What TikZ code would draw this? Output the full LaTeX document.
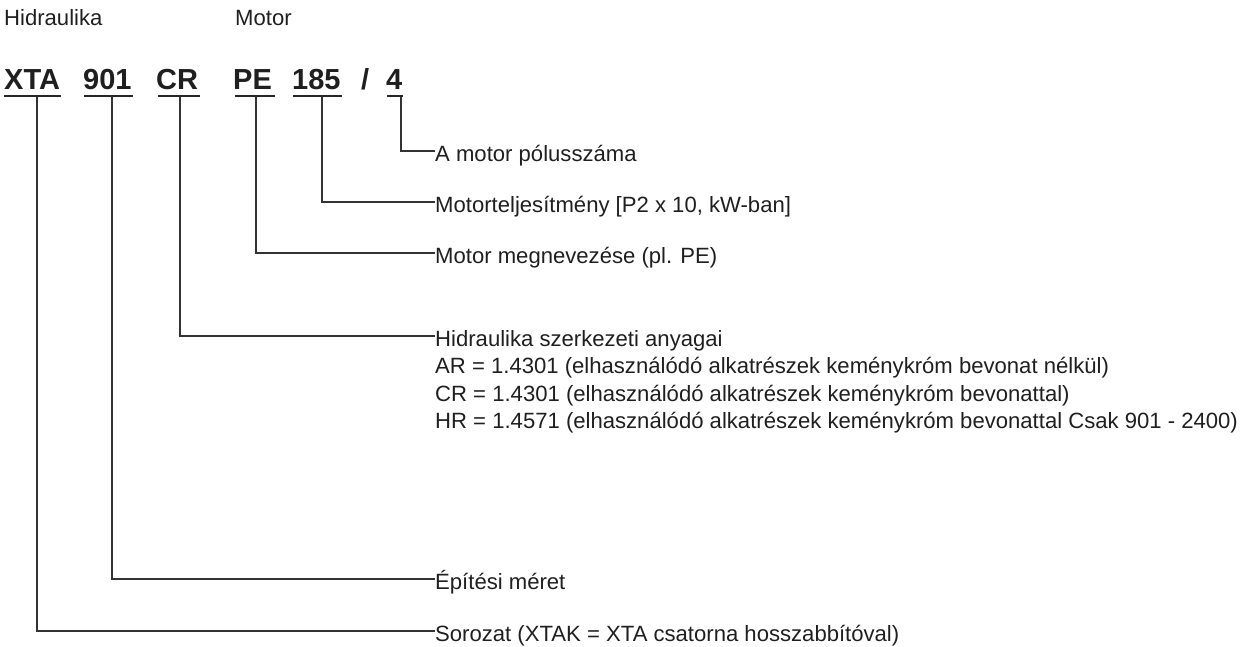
\documentclass[tikz,border=0pt]{standalone}
\usepackage{fontspec}
\setmainfont{Liberation Sans}
\usetikzlibrary{positioning}
\usetikzlibrary{calc}

\begin{document}
\begin{tikzpicture}[x=1pt,y=-1pt,
    lbl/.style={anchor=base west,inner sep=0pt,text=black!88,font=\fontsize{22.1}{26}\selectfont},
    code/.style={anchor=base west,inner sep=0pt,text=black!88,font=\fontsize{29}{32}\selectfont\bfseries},
    lead/.style={line width=1.1pt,draw=black!80},
    uline/.style={line width=2pt,draw=black!85}]
            \useasboundingbox (0,0) rectangle (1249,646);
            % group headings
            \node[lbl] (hhyd) at (4,25.5) {Hidraulika};
            \node[lbl] (hmot) at (235,25.5) {Motor};
            % type code
            \node[code] (xta) at (4,89.5) {XTA};
            \node[code] (size) at (83,89.5) {901};
            \node[code] (mat) at (156,89.5) {CR};
            \node[code] (mot) at (233,89.5) {PE};
            \node[code] (pow) at (292,89.5) {185};
            \node[code] (slash) at (361,89.5) {/};
            \node[code] (pole) at (386,89.5) {4};
            \draw[uline] (4,96) -- (61,96);
            \draw[uline] (84,96) -- (133,96);
            \draw[uline] (158,96) -- (200,96);
            \draw[uline] (235,96) -- (275,96);
            \draw[uline] (293,96) -- (342,96);
            \draw[uline] (387,96) -- (403,96);
            % leader start points
            \coordinate (xtaT) at (37,97);
            \coordinate (sizeT) at (112,97);
            \coordinate (matT) at (180,97);
            \coordinate (motT) at (256,97);
            \coordinate (powT) at (322,97);
            \coordinate (poleT) at (401,97);
            % leader end points
            \coordinate (poleE) at (435,151);
            \coordinate (powE) at (435,202);
            \coordinate (motE) at (435,253);
            \coordinate (matE) at (435,336);
            \coordinate (sizeE) at (435,579);
            \coordinate (xtaE) at (435,631);
            % descriptions
            \node[lbl] (poleD) at ([yshift=-10.5pt]poleE) {A motor pólusszáma};
            \node[lbl] (powD) at ([yshift=-10.5pt]powE) {Motorteljesítmény [P2 x 10, kW-ban]};
            \node[lbl] (motD) at ([yshift=-10.5pt]motE) {Motor megnevezése (pl. PE)};
            \node[lbl] (matD) at ([yshift=-10.5pt]matE) {Hidraulika szerkezeti anyagai};
            \node[lbl] (matA) at ([yshift=-37.8pt]matE) {AR = 1.4301 (elhasználódó alkatrészek keménykróm bevonat nélkül)};
            \node[lbl] (matC) at ([yshift=-65.1pt]matE) {CR = 1.4301 (elhasználódó alkatrészek keménykróm bevonattal)};
            \node[lbl] (matH) at ([yshift=-92.4pt]matE) {HR = 1.4571 (elhasználódó alkatrészek keménykróm bevonattal Csak 901 - 2400)};
            \node[lbl] (sizeD) at ([yshift=-10.5pt]sizeE) {Építési méret};
            \node[lbl] (xtaD) at ([yshift=-10.5pt]xtaE) {Sorozat (XTAK = XTA csatorna hosszabbítóval)};
            % leaders
            \draw[lead] (poleT) |- (poleE);
            \draw[lead] (powT) |- (powE);
            \draw[lead] (motT) |- (motE);
            \draw[lead] (matT) |- (matE);
            \draw[lead] (sizeT) |- (sizeE);
            \draw[lead] (xtaT) |- (xtaE);
        \end{tikzpicture}
\end{document}
